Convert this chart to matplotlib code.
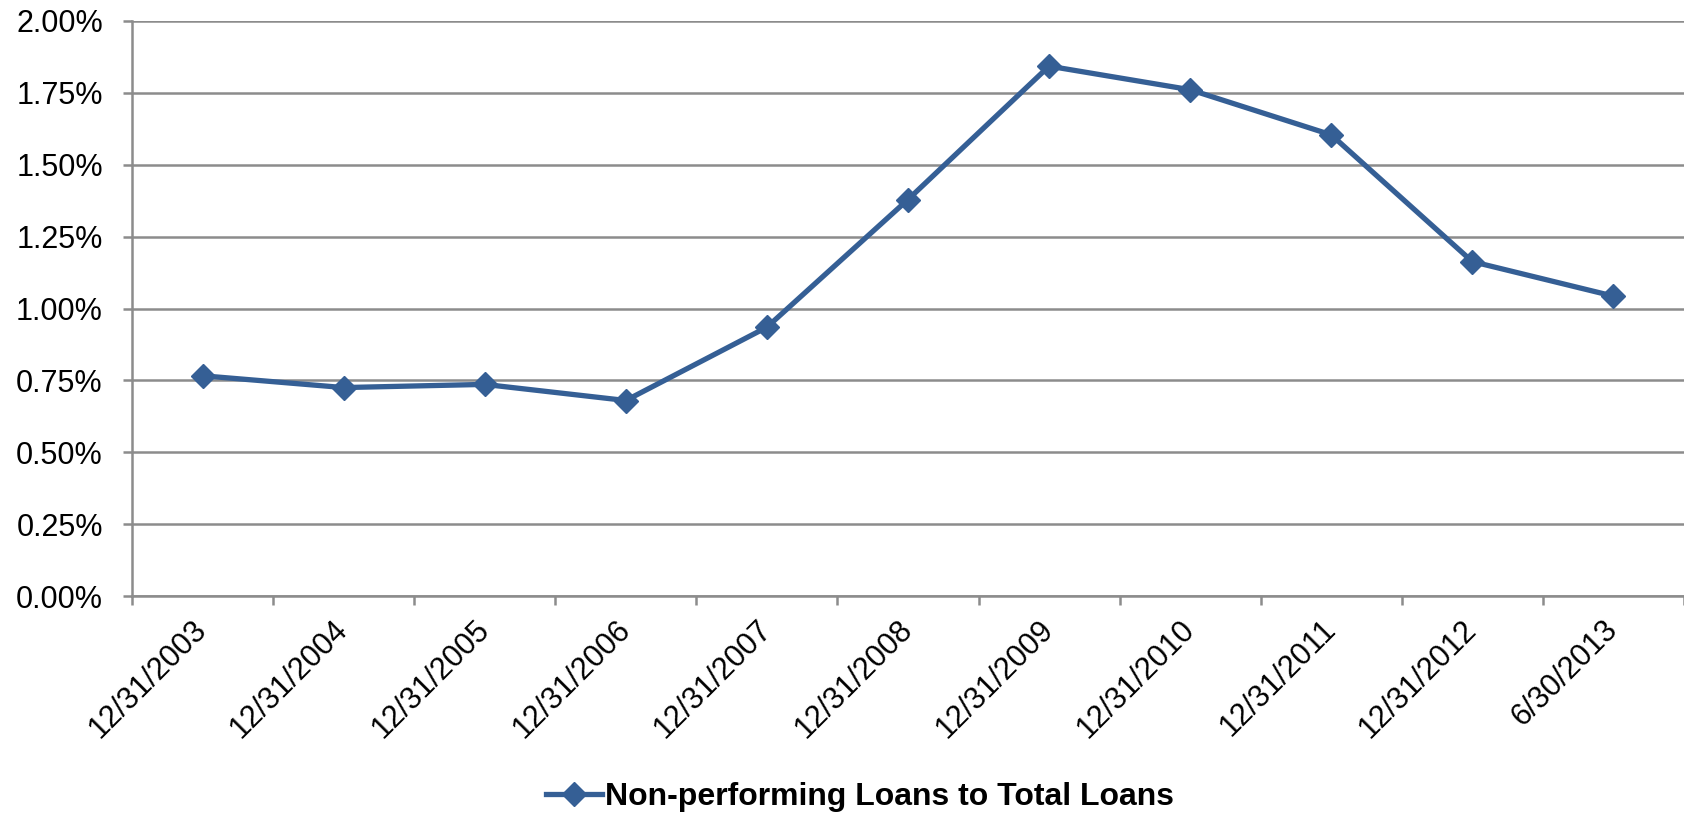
import matplotlib
matplotlib.use("Agg")
import matplotlib.pyplot as plt
from matplotlib.ticker import FixedLocator, PercentFormatter

categories = ["12/31/2003", "12/31/2004", "12/31/2005", "12/31/2006", "12/31/2007",
              "12/31/2008", "12/31/2009", "12/31/2010", "12/31/2011", "12/31/2012",
              "6/30/2013"]
npl_ratio = [0.766, 0.725, 0.736, 0.680, 0.935, 1.379, 1.843, 1.761, 1.604, 1.163, 1.043]
y_ticks = [0.0, 0.25, 0.5, 0.75, 1.0, 1.25, 1.5, 1.75, 2.0]
series_name = "Non-performing Loans to Total Loans"

plt.rcParams['font.family'] = ['Liberation Sans', 'DejaVu Sans']

fig = plt.figure(figsize=(16.84, 8.17), dpi=100)
ax = fig.add_axes([132/1684, 1 - 596/817, 1 - 132/1684, (596 - 21)/817])

color = '#355F95'
x = list(range(len(categories)))
ax.plot(x, npl_ratio, color=color, lw=3.8, marker='D', ms=12.5, label=series_name,
        zorder=3)

ax.set_xlim(-0.5, len(categories) - 0.5)
ax.set_ylim(0, 2.0)
ax.set_yticks(y_ticks)
ax.yaxis.set_major_formatter(PercentFormatter(decimals=2))
ax.grid(axis='y', color='#8C8C8C', lw=1.8)
ax.set_axisbelow(True)

ax.set_xticks(x)
ax.set_xticklabels(categories, rotation=45, ha='right', va='center',
                   rotation_mode='anchor')
ax.xaxis.set_minor_locator(FixedLocator([i - 0.5 for i in range(len(categories) + 1)]))
ax.tick_params(axis='x', which='major', length=0, pad=21, labelsize=22)
ax.tick_params(axis='x', which='minor', length=6.5, width=1.8, color='#8C8C8C')
ax.tick_params(axis='y', length=6.5, width=1.8, color='#8C8C8C', pad=14.5, labelsize=22)

for s in ['top', 'right']:
    ax.spines[s].set_visible(False)
for s in ['left', 'bottom']:
    ax.spines[s].set_color('#8C8C8C')
    ax.spines[s].set_linewidth(1.8)

fig.legend(loc='center', bbox_to_anchor=(860/1684, 1 - 797/817), frameon=False,
           prop={'weight': 'bold', 'size': 23}, handlelength=1.75, handletextpad=0.1)

fig.savefig('out.png', dpi=100)
